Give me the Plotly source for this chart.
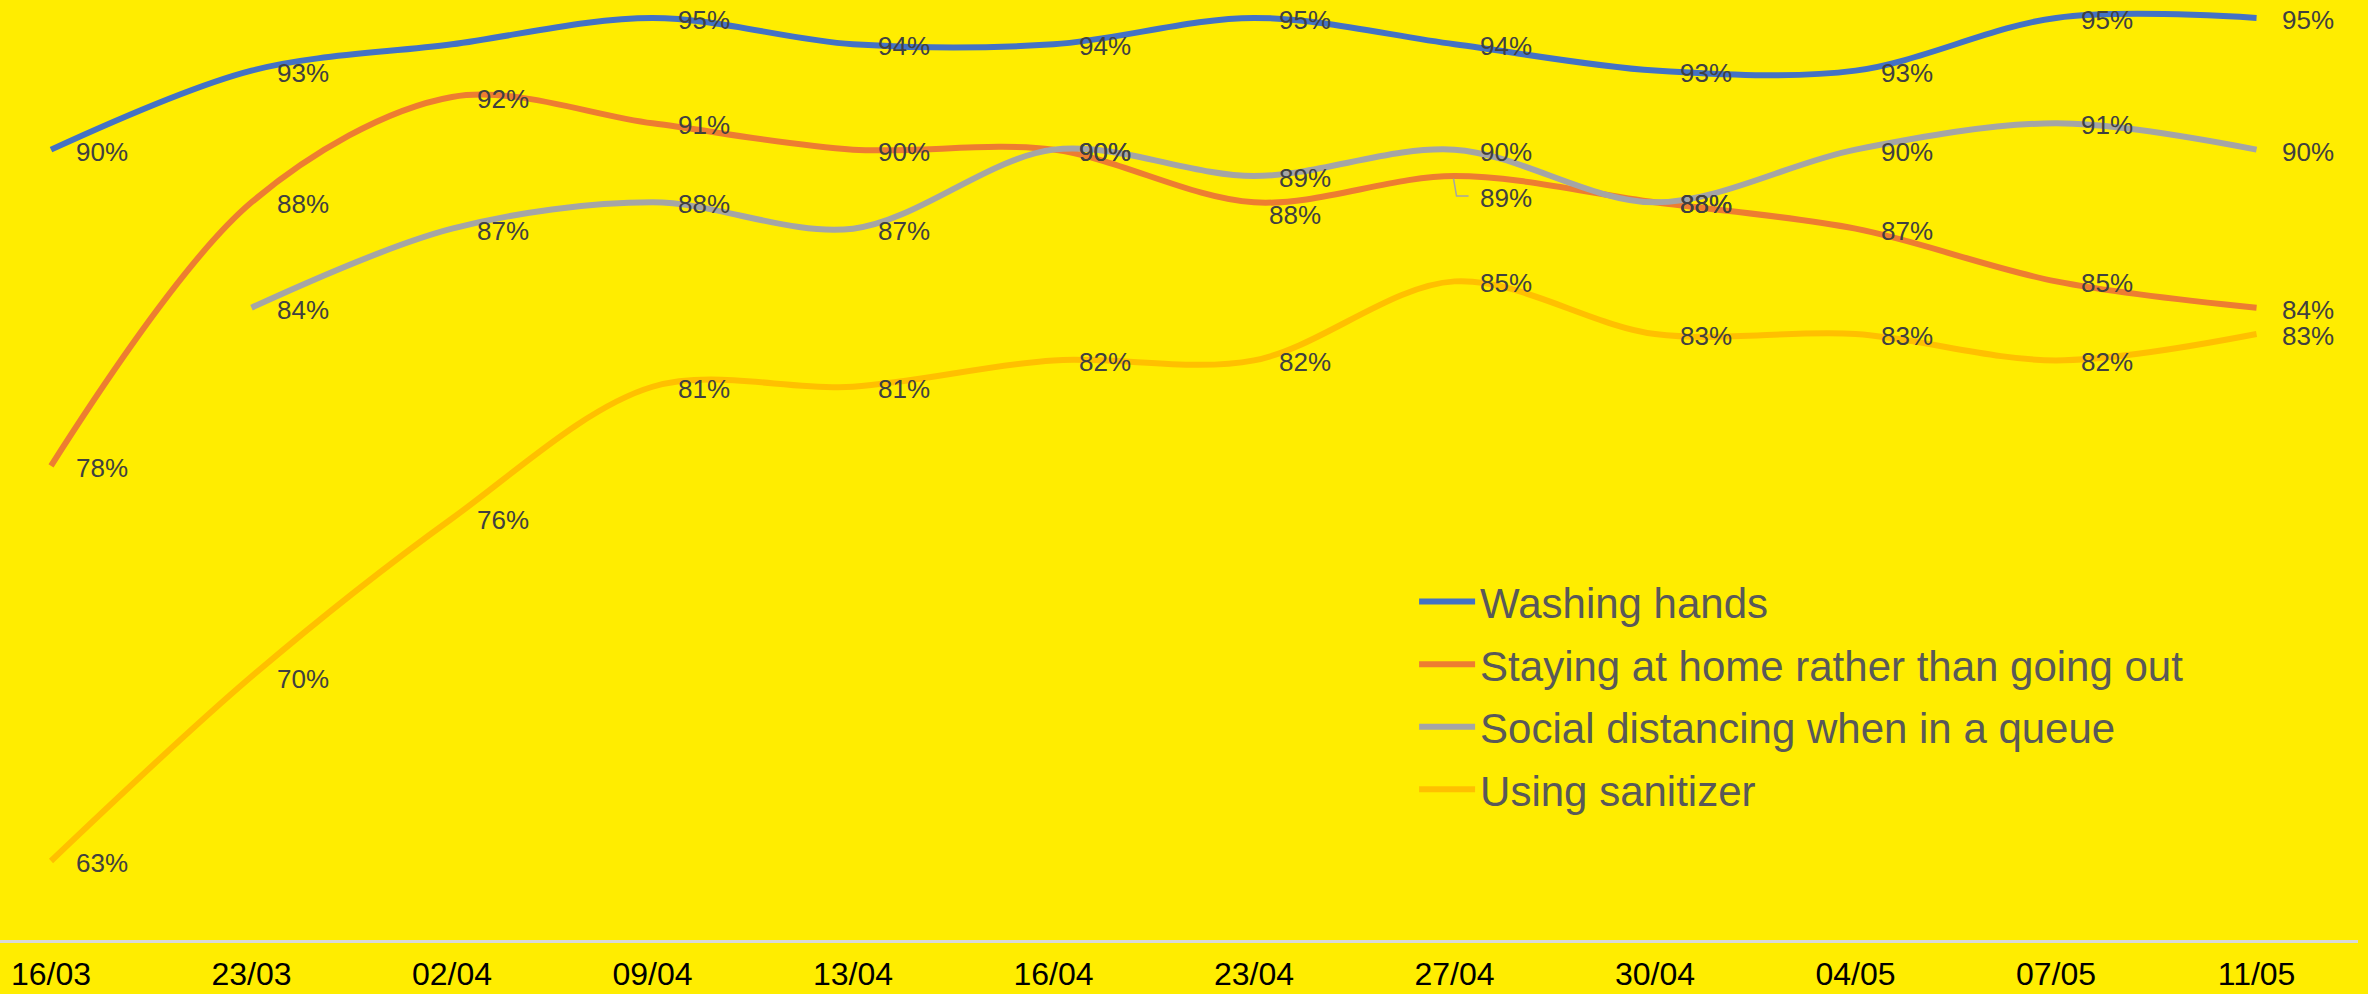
import plotly.graph_objects as go

dates = ["16/03", "23/03", "02/04", "09/04", "13/04", "16/04",
         "23/04", "27/04", "30/04", "04/05", "07/05", "11/05"]

washing_hands = [90, 93, 94, 95, 94, 94, 95, 94, 93, 93, 95, 95]
staying_home = [78, 88, 92, 91, 90, 90, 88, 89, 88, 87, 85, 84]
social_distancing = [None, 84, 87, 88, 87, 90, 89, 90, 88, 90, 91, 90]
sanitizer = [63, 70, 76, 81, 81, 82, 82, 85, 83, 83, 82, 83]

series_names = ["Washing hands", "Staying at home rather than going out",
                "Social distancing when in a queue", "Using sanitizer"]
series_values = [washing_hands, staying_home, social_distancing, sanitizer]
series_colors = ["#4472C4", "#ED7D31", "#A5A5A5", "#FFC000"]

# labels not shown in the source chart: (series index, date index)
hidden_labels = {(0, 2)}
# labels moved by the source chart to avoid collisions: (series, date) -> (dx, dy)
moved_labels = {(1, 6): (-10, -11), (1, 7): (0, -20)}

BG = "#FFED00"
FONT = "Arial, Liberation Sans, sans-serif"

fig = go.Figure()
for k, (name, vals, col) in enumerate(zip(series_names, series_values, series_colors)):
    fig.add_trace(go.Scatter(
        x=dates, y=vals, name=name, mode="lines",
        line=dict(color=col, width=6, shape="spline", smoothing=0.95),
        legendgroup=f"g{k}", hoverinfo="x+y+name",
    ))

annotations = []
for k, vals in enumerate(series_values):
    for i, v in enumerate(vals):
        if v is None or (k, i) in hidden_labels:
            continue
        dx, dy = moved_labels.get((k, i), (0, 0))
        annotations.append(dict(
            x=dates[i], y=v, xref="x", yref="y", text=f"{v}%",
            showarrow=False, xanchor="left", yanchor="middle",
            xshift=23 + dx, yshift=-2 + dy,
            font=dict(family=FONT, size=26, color="#404040"),
        ))

# leader line for the moved label at 27/04 (Staying at home)
li = 7
lv = staying_home[li]
px_per_unit = 940 / (95.68 - 60)
fig.add_shape(type="path", xref="x", yref="y",
              path=(f"M {li - 0.005},{lv - 0.1} L {li + 0.01},{lv - 20 / px_per_unit} "
                    f"L {li + 0.07},{lv - 20 / px_per_unit}"),
              line=dict(color="#A5A5A5", width=1.5))

fig.update_layout(
    width=2368, height=994,
    margin=dict(l=0, r=10, t=0, b=54),
    paper_bgcolor=BG, plot_bgcolor=BG,
    showlegend=True,
    legend=dict(x=0.5997, y=0.396, xanchor="left", yanchor="top",
                bgcolor="rgba(0,0,0,0)", tracegroupgap=5, itemwidth=56,
                font=dict(family=FONT, size=42, color="#595959")),
    annotations=annotations,
    xaxis=dict(type="category", range=[-0.2544, 11.506],
               showline=True, linecolor="#D9D9D9", linewidth=3,
               showgrid=False, zeroline=False, ticks="", ticklabelstandoff=4,
               tickfont=dict(family=FONT, size=32, color="#000000")),
    yaxis=dict(range=[60, 95.68], showticklabels=False, showgrid=False,
               zeroline=False, showline=False),
)

fig.write_html("out.html")
